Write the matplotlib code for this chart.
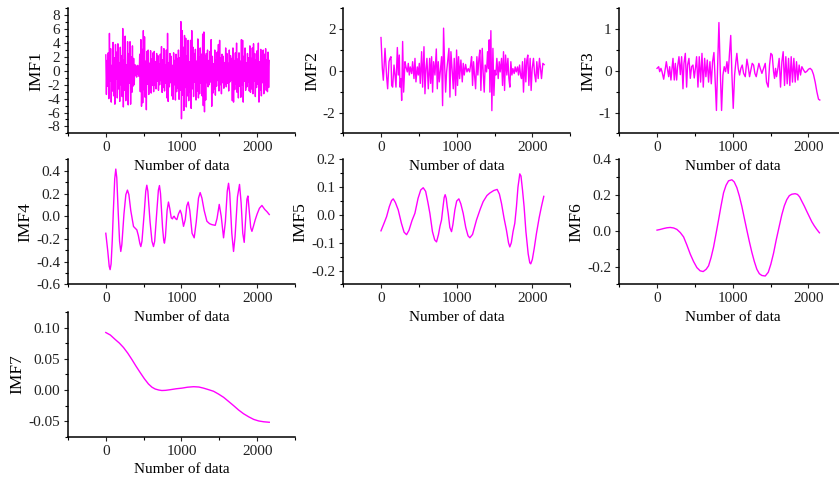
import numpy as np
import matplotlib
matplotlib.use('Agg')
import matplotlib.pyplot as plt
from matplotlib.ticker import MultipleLocator, FormatStrFormatter

plt.rcParams['font.family'] = ['Liberation Serif', 'DejaVu Serif']
plt.rcParams['axes.unicode_minus'] = False

# IMF1, one value every 8 samples (0..2160)
imf1_step = 8
imf1 = [
    2.3, -3.4, 1.5, -2.2, 2.6, -4.0, 5.4, -1.5, 3.2, -4.5, 0.8, -2.9, 4.1, -3.6, 1.9, -4.8, 3.8, -1.2, 2.7, -3.9,
    3.9, -2.6, 1.2, -4.4, 3.4, -2.0, 2.2, -3.7, 6.1, -5.2, 1.6, -2.8, 5.0, -4.3, 0.9, -3.0, 4.2, -4.9, 2.5, -1.8,
    4.2, -4.8, 2.0, -3.1, 3.6, -2.2, 1.8, -2.0, 0.9, -0.7, 0.6, -0.9, 0.8, -0.5, 0.7, -0.8, 2.4, -3.0, 4.5, -5.1,
    3.1, -4.6, 5.8, -2.7, 4.9, -3.8, 1.4, -5.6, 2.8, -1.9, 3.0, -3.4, 1.1, -2.5, 2.9, -3.2, 1.7, -2.1, 2.6, -3.0,
    2.8, -2.1, 1.3, -2.6, 2.5, -1.5, 2.2, -2.8, 1.0, -2.0, 2.4, -1.4, 3.5, -3.1, 1.6, -2.4, 3.2, -2.9, 0.9, -1.8,
    3.0, -3.9, 5.4, -4.4, 1.2, -2.3, 2.5, -1.7, 2.1, -3.6, 0.8, -4.1, 2.6, -2.0, 1.5, -4.2, 2.4, -3.0, 1.8, -2.5,
    3.0, -4.1, 1.9, -2.8, 7.1, -6.9, 5.8, -3.5, 3.4, -5.7, 5.1, -2.4, 4.7, -5.2, 2.2, -3.6, 4.4, -4.3, 1.3, -3.1,
    4.4, -5.4, 5.8, -2.6, 3.4, -3.7, 2.5, -1.6, 3.1, -4.2, 1.4, -2.9, 4.6, -3.9, 2.0, -3.3, 3.3, -1.8, 2.4, -3.6,
    5.3, -5.0, 5.6, -5.9, 2.2, -4.2, 2.5, -1.7, 3.0, -2.3, 1.5, -2.0, 2.8, -1.6, 4.5, -5.1, 2.1, -3.2, 1.0, -2.6,
    3.0, -3.5, 1.6, -2.2, 2.7, -1.4, 3.8, -2.9, 4.4, -2.0, 1.9, -3.3, 2.4, -1.7, 2.1, -2.5, 1.2, -1.9, 3.3, -2.3,
    2.5, -1.8, 1.1, -2.9, 3.0, -1.6, 2.2, -1.3, 1.8, -4.3, 3.3, -4.5, 1.5, -2.7, 2.6, -1.9, 4.0, -3.1, 1.7, -3.9,
    2.6, -2.2, 1.4, -3.8, 4.5, -2.0, 4.4, -4.5, 2.1, -1.5, 3.3, -2.8, 1.2, -2.3, 2.5, -1.6, 1.9, -2.9, 3.6, -3.1,
    1.8, -2.6, 3.3, -3.3, 3.9, -1.5, 2.5, -3.7, 1.6, -2.4, 2.9, -1.9, 4.0, -4.5, 1.3, -2.8, 3.1, -3.6, 2.2, -1.7,
    3.0, -3.3, 2.4, -2.1, 3.2, -2.8, 1.6, -3.0, 2.7, -2.4, 1.5,
]

# (sample, value) pairs
imf2 = [
    (0, 1.6), (18, 0.1), (31, -0.45), (53, 1.08), (75, -0.3), (88, -0.86), (106, 0.44), (119, 0.6),
    (132, 0.68), (141, -0.7), (154, -0.78), (172, 0.28), (185, -0.2), (198, -0.78), (216, 1.12),
    (229, -0.2), (242, 0.76), (251, -0.78), (264, -0.37), (273, -1.42), (286, 1.41), (299, -1.02),
    (317, 0.44), (330, 0.19), (348, -0.05), (361, 0.36), (374, -0.2), (387, 0.19), (405, -0.13),
    (418, 0.44), (436, -0.37), (449, 0.6), (462, -0.53), (480, 0.19), (493, -0.2), (506, 0.36),
    (519, -0.6), (537, 0.92), (550, -0.78), (568, 1.16), (581, -1.1), (594, 0.11), (607, 0.6),
    (625, -0.86), (643, 0.6), (656, -0.6), (669, 0.68), (682, -1.02), (695, 0.44), (713, -0.2),
    (731, 1.05), (744, -0.86), (757, 0.44), (770, -0.53), (783, -0.05), (801, 0.68), (814, -1.67),
    (827, 2.05), (841, 0.28), (854, -1.02), (867, -0.05), (880, 0.44), (898, 1.08), (911, -1.26),
    (924, 0.92), (942, -0.05), (955, -0.86), (968, 0.6), (986, -1.18), (999, 1.0), (1012, -0.7),
    (1025, 0.68), (1039, -0.37), (1056, 0.52), (1074, -0.53), (1087, 0.36), (1100, -0.2), (1118, 0.31),
    (1136, -0.05), (1153, 0.11), (1171, -0.05), (1184, 0.28), (1197, 0.68), (1210, -0.7), (1223, 0.44),
    (1237, -0.2), (1250, -0.86), (1267, 0.68), (1280, -0.2), (1294, 0.6), (1307, 1.0), (1320, -0.94),
    (1338, 1.08), (1351, -0.13), (1364, -1.02), (1377, 0.28), (1395, -0.05), (1408, 0.92), (1421, 0.11),
    (1430, 1.49), (1439, -1.02), (1452, 1.93), (1465, -1.91), (1479, 1.08), (1492, -1.18), (1505, 0.03),
    (1518, -0.2), (1531, 0.6), (1549, -0.37), (1562, 0.44), (1575, -0.05), (1593, 0.6), (1606, -0.7),
    (1619, 0.92), (1633, -0.94), (1646, 0.76), (1663, -0.2), (1677, 0.6), (1690, -0.37), (1703, -0.78),
    (1716, 0.44), (1730, -0.2), (1743, 0.11), (1760, -0.13), (1773, 0.19), (1787, -0.05), (1804, 0.19),
    (1817, -0.2), (1831, 0.28), (1844, -0.2), (1857, -0.37), (1870, 0.44), (1883, -1.02), (1901, 0.6),
    (1914, -0.53), (1927, 0.52), (1940, 0.76), (1954, -0.7), (1971, 0.6), (1984, -0.94), (1998, 0.11),
    (2015, 0.6), (2029, -0.13), (2046, -0.53), (2059, 0.44), (2077, -0.37), (2094, 0.6), (2108, 0.11),
    (2121, -0.37), (2139, 0.36), (2156, 0.3),
]

imf3 = [
    (0, 0.06), (22, 0.1), (35, -0.02), (52, 0.06), (66, -0.02), (88, -0.2), (110, 0.06), (123, 0.22),
    (140, 0.02), (154, -0.14), (167, 0.1), (184, -0.22), (198, 0.06), (211, 0.3), (228, -0.22),
    (242, 0.18), (259, -0.22), (272, 0.1), (290, 0.34), (308, -0.09), (325, 0.34), (343, -0.43),
    (356, 0.18), (374, 0.42), (391, -0.39), (404, 0.14), (422, 0.3), (440, -0.18), (457, 0.1),
    (475, 0.14), (492, -0.17), (510, 0.1), (523, 0.34), (541, -0.39), (558, 0.34), (576, -0.27),
    (594, 0.42), (611, -0.39), (629, 0.3), (646, -0.14), (664, 0.26), (681, -0.27), (699, 0.22),
    (717, -0.31), (734, 0.22), (752, 0.44), (770, -0.31), (785, -0.95), (800, 0.06), (818, 1.16),
    (836, -0.02), (853, -0.95), (871, -0.1), (888, 0.1), (906, -0.02), (924, 0.22), (941, -0.06),
    (959, 0.46), (974, 0.85), (990, -0.1), (1007, -0.9), (1025, -0.1), (1042, 0.22), (1055, 0.42),
    (1073, 0.06), (1091, -0.1), (1108, 0.06), (1126, 0.14), (1144, -0.06), (1166, -0.14), (1188, 0.28),
    (1205, 0.1), (1223, -0.14), (1240, 0.02), (1258, 0.18), (1276, 0.14), (1293, -0.06), (1311, -0.14),
    (1328, 0.02), (1346, 0.18), (1364, 0.06), (1386, -0.06), (1408, 0.06), (1430, 0.18), (1447, -0.27),
    (1469, -0.39), (1487, 0.14), (1504, 0.42), (1522, 0.38), (1540, -0.02), (1553, -0.18), (1566, 0.06),
    (1579, -0.14), (1597, 0.06), (1614, 0.3), (1632, -0.39), (1650, 0.22), (1667, 0.46), (1685, -0.35),
    (1702, 0.34), (1720, -0.31), (1738, 0.3), (1755, -0.35), (1773, 0.34), (1790, -0.27), (1808, 0.3),
    (1826, -0.27), (1843, 0.22), (1861, -0.22), (1878, 0.14), (1896, -0.1), (1914, 0.1), (1936, 0.02),
    (1958, -0.04), (1980, -0.01), (2002, 0.04), (2024, 0.06), (2046, 0.02), (2068, -0.09), (2090, -0.27),
    (2112, -0.5), (2134, -0.68), (2151, -0.7),
]

imf4 = [
    (0, -0.15), (25, -0.30), (45, -0.44), (57, -0.47), (70, -0.42), (85, -0.22), (100, 0.05),
    (118, 0.33), (132, 0.415), (145, 0.34), (165, 0.02), (182, -0.22), (198, -0.31), (212, -0.25),
    (240, 0.02), (265, 0.19), (286, 0.23), (305, 0.19), (330, 0.05), (366, -0.09), (395, -0.11),
    (410, -0.12), (430, -0.17), (450, -0.24), (463, -0.267), (478, -0.22), (510, 0.05), (528, 0.22),
    (542, 0.273), (556, 0.22), (585, -0.05), (610, -0.22), (630, -0.267), (646, -0.22), (675, 0.05),
    (695, 0.23), (709, 0.27), (723, 0.2), (750, -0.10), (765, -0.21), (775, -0.237), (788, -0.18),
    (810, 0.05), (828, 0.125), (845, 0.07), (865, -0.015), (881, -0.023), (893, -0.005), (903, 0.0),
    (920, -0.02), (939, -0.03), (960, 0.02), (983, 0.053), (1000, 0.02), (1027, -0.089), (1050, -0.03),
    (1070, 0.09), (1089, 0.125), (1110, 0.05), (1140, -0.15), (1168, -0.19), (1195, -0.05),
    (1225, 0.16), (1247, 0.208), (1270, 0.16), (1300, 0.05), (1336, -0.044), (1370, -0.065),
    (1402, -0.074), (1446, -0.08), (1470, -0.02), (1499, 0.104), (1525, 0.0), (1556, -0.19),
    (1580, -0.05), (1605, 0.22), (1622, 0.29), (1638, 0.2), (1665, -0.15), (1688, -0.31),
    (1708, -0.18), (1740, 0.17), (1767, 0.28), (1788, 0.12), (1810, -0.15), (1829, -0.23),
    (1850, 0.0), (1865, 0.15), (1878, 0.178), (1895, 0.05), (1915, -0.10), (1931, -0.133),
    (1950, -0.09), (1975, -0.03), (2000, 0.02), (2030, 0.07), (2063, 0.095), (2100, 0.06),
    (2130, 0.04), (2160, 0.015),
]

imf5 = [
    (0, -0.057), (40, -0.03), (74, -0.006), (110, 0.03), (140, 0.052), (162, 0.058), (190, 0.045),
    (228, 0.018), (270, -0.03), (305, -0.062), (338, -0.071), (370, -0.055), (410, -0.02),
    (448, 0.006), (490, 0.06), (525, 0.09), (558, 0.098), (590, 0.085), (620, 0.045), (646, 0.006),
    (680, -0.06), (710, -0.09), (734, -0.097), (760, -0.07), (780, -0.04), (800, -0.018),
    (820, 0.03), (835, 0.063), (848, 0.073), (862, 0.06), (875, 0.03), (888, 0.006), (910, -0.045),
    (932, -0.06), (950, -0.035), (976, 0.018), (1000, 0.05), (1029, 0.058), (1055, 0.04),
    (1086, 0.006), (1120, -0.045), (1150, -0.075), (1174, -0.082), (1210, -0.07), (1262, -0.018),
    (1310, 0.02), (1350, 0.048), (1400, 0.07), (1438, 0.079), (1490, 0.088), (1535, 0.092),
    (1565, 0.075), (1592, 0.042), (1625, -0.01), (1658, -0.055), (1685, -0.1), (1702, -0.115),
    (1722, -0.1), (1745, -0.06), (1768, -0.03), (1790, 0.03), (1810, 0.1), (1834, 0.148),
    (1850, 0.14), (1870, 0.09), (1891, 0.03), (1915, -0.06), (1945, -0.14), (1966, -0.172),
    (1979, -0.176), (2000, -0.16), (2025, -0.12), (2054, -0.067), (2090, -0.01), (2120, 0.03),
    (2151, 0.067),
]

imf6 = [
    (0, 0.004), (44, 0.008), (87, 0.013), (130, 0.017), (175, 0.019), (220, 0.016), (263, 0.008),
    (308, -0.01), (351, -0.034), (395, -0.08), (439, -0.13), (483, -0.172), (527, -0.206),
    (570, -0.224), (610, -0.228), (650, -0.215), (681, -0.196), (714, -0.15), (747, -0.091),
    (780, -0.016), (813, 0.061), (846, 0.14), (879, 0.213), (912, 0.255), (945, 0.28), (989, 0.286),
    (1020, 0.274), (1055, 0.242), (1088, 0.195), (1121, 0.137), (1154, 0.07), (1187, 0.004),
    (1220, -0.06), (1253, -0.12), (1286, -0.172), (1319, -0.215), (1352, -0.24), (1385, -0.25),
    (1430, -0.253), (1470, -0.232), (1504, -0.187), (1540, -0.125), (1574, -0.053), (1612, 0.02),
    (1649, 0.09), (1682, 0.14), (1715, 0.175), (1748, 0.197), (1781, 0.205), (1825, 0.208),
    (1856, 0.204), (1885, 0.19), (1913, 0.166), (1946, 0.139), (1979, 0.109), (2012, 0.08),
    (2045, 0.051), (2078, 0.028), (2111, 0.008), (2146, -0.011),
]

imf7 = [
    (0, 0.092), (60, 0.088), (123, 0.081), (180, 0.075), (234, 0.068), (290, 0.059), (344, 0.049),
    (400, 0.038), (454, 0.028), (510, 0.018), (564, 0.0096), (610, 0.0045), (653, 0.0016),
    (700, 0.0), (741, -0.0008), (790, -0.0005), (851, 0.0005), (930, 0.002), (1005, 0.003),
    (1080, 0.0045), (1160, 0.0053), (1230, 0.0048), (1292, 0.003), (1360, 0.0005), (1424, -0.002),
    (1490, -0.0065), (1557, -0.0117), (1620, -0.018), (1689, -0.025), (1755, -0.032), (1821, -0.038),
    (1890, -0.043), (1954, -0.047), (2020, -0.0495), (2086, -0.0508), (2160, -0.0516),
]

names = ['IMF1', 'IMF2', 'IMF3', 'IMF4', 'IMF5', 'IMF6', 'IMF7']
ylims = [(-9, 9), (-3, 3), (-1.5, 1.5), (-0.6, 0.5), (-0.25, 0.2), (-0.3, 0.4), (-0.075, 0.125)]
ymajor = [2, 2, 1, 0.2, 0.1, 0.2, 0.05]
yformat = ['%d', '%d', '%d', '%.1f', '%.1f', '%.1f', '%.2f']

curves = [(np.arange(len(imf1)) * imf1_step, imf1)]
for pts in [imf2, imf3, imf4, imf5, imf6, imf7]:
    xs, ys = zip(*pts)
    curves.append((xs, ys))

fig = plt.figure(figsize=(8.39, 4.78), dpi=100)
col_left = [0.081, 0.409, 0.738]
row_bottom = [0.721, 0.405, 0.086]
w, h = 0.2706, 0.2615

for i, name in enumerate(names):
    r, c = divmod(i, 3)
    ax = fig.add_axes([col_left[c], row_bottom[r], w, h])
    ax.patch.set_visible(False)
    x, y = curves[i]
    ax.plot(x, y, color='#ff00ff', lw=1.0)
    ax.spines['top'].set_visible(False)
    ax.spines['right'].set_visible(False)
    ax.spines['left'].set_linewidth(1.1)
    ax.spines['bottom'].set_linewidth(1.1)
    ax.set_xlim(-500, 2500)
    ax.set_ylim(*ylims[i])
    ax.xaxis.set_major_locator(MultipleLocator(1000))
    ax.xaxis.set_minor_locator(MultipleLocator(500))
    ax.yaxis.set_major_locator(MultipleLocator(ymajor[i]))
    ax.yaxis.set_minor_locator(MultipleLocator(ymajor[i] / 2))
    ax.yaxis.set_major_formatter(FormatStrFormatter(yformat[i]))
    ax.tick_params(which='major', direction='out', length=3, width=0.8, labelsize=11,
                   colors='#222222', pad=2.5)
    ax.tick_params(which='minor', direction='out', length=2, width=0.8)
    ax.set_ylabel(name, fontsize=12.5, labelpad=2)
    ax.set_xlabel('Number of data', fontsize=11, labelpad=4)

fig.savefig('out.png', dpi=100)
